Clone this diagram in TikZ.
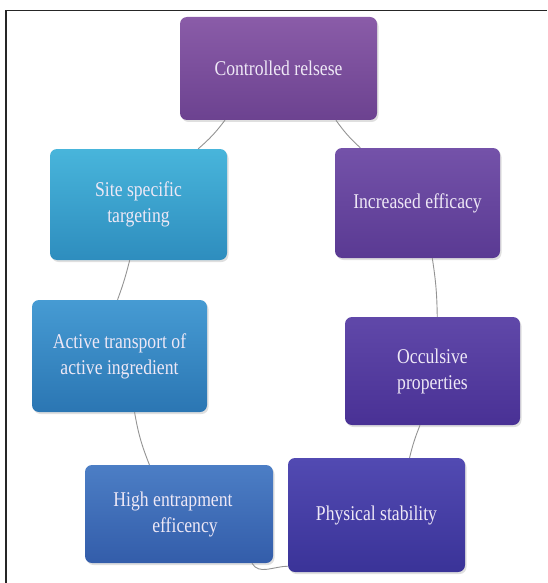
\documentclass[tikz,border=0pt]{standalone}
\usepackage{fontspec}
\setmainfont{Liberation Serif}[FakeStretch=0.84]
\usetikzlibrary{shadows}
\definecolor{ctrltop}{HTML}{8A5CA8}
\definecolor{ctrlbot}{HTML}{6C4290}
\definecolor{sitetop}{HTML}{48B5DB}
\definecolor{sitebot}{HTML}{2E8DBE}
\definecolor{incrtop}{HTML}{7452A9}
\definecolor{incrbot}{HTML}{5A3A93}
\definecolor{actvtop}{HTML}{469BD3}
\definecolor{actvbot}{HTML}{2B76B3}
\definecolor{occltop}{HTML}{6048A9}
\definecolor{occlbot}{HTML}{493195}
\definecolor{hightop}{HTML}{4C7EC5}
\definecolor{highbot}{HTML}{335DAA}
\definecolor{phystop}{HTML}{524AB2}
\definecolor{physbot}{HTML}{3A3398}
\definecolor{labeltext}{HTML}{EEE8F6}
\tikzset{   boxed/.style = {rectangle, rounded corners = 7pt, align = center, text = labeltext,
                            font = \fontsize{21}{26}\selectfont, inner sep = 0pt,
                            drop shadow = {opacity = 0.25, shadow xshift = 1.5pt, shadow yshift = -2pt}},
            link/.style = {draw = gray!85, line width = 0.9pt}}

\begin{document}
\begin{tikzpicture}[x=1pt, y=-1pt]
                        \useasboundingbox (0,0) rectangle (547,583);
                        \draw[line width = 1.4pt, black!85] (6,583) -- (6,10.5) -- (547,10.5);
                        \node[boxed, minimum width = 197pt, minimum height = 103pt, top color = ctrltop, bottom color = ctrlbot]
                            (ctrl) at (278.5,68.5) {Controlled relsese};
                        \node[boxed, minimum width = 177pt, minimum height = 111pt, top color = sitetop, bottom color = sitebot]
                            (site) at (138.5,204.5) {Site specific\\targeting};
                        \node[boxed, minimum width = 165pt, minimum height = 110pt, top color = incrtop, bottom color = incrbot]
                            (incr) at (417.5,203) {Increased efficacy};
                        \node[boxed, minimum width = 175pt, minimum height = 112pt, top color = actvtop, bottom color = actvbot]
                            (actv) at (119.5,356) {Active transport of\\active ingredient};
                        \node[boxed, minimum width = 175pt, minimum height = 108pt, top color = occltop, bottom color = occlbot]
                            (occl) at (432.5,371) {Occulsive\\properties};
                        \node[boxed, minimum width = 188pt, minimum height = 98pt, top color = hightop, bottom color = highbot]
                            (high) at (179,514) {High entrapment\hspace*{12pt}\\\hspace*{12pt}efficency};
                        \node[boxed, minimum width = 177pt, minimum height = 114pt, top color = phystop, bottom color = physbot]
                            (phys) at (376.5,515) {Physical stability};
                        \draw[link] (ctrl.224) to[bend left=6] (site.43);
                        \draw[link] (ctrl.318) to[bend right=6] (incr.136);
                        \draw[link] (site.261) to[bend left=3] (actv.92);
                        \draw[link] (incr.285) to[bend left=4] (occl.85);
                        \draw[link] (actv.285) to[bend right=6] (high.121);
                        \draw[link] (occl.257) to[bend right=4] (phys.60);
                        \draw[link] (high.326) to[out=-60, in=180] (phys.210);
                      \end{tikzpicture}
\end{document}
